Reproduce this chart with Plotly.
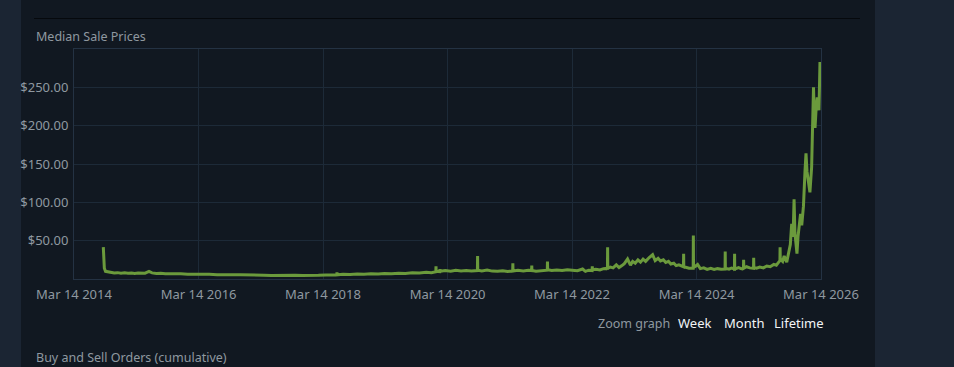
import plotly.graph_objects as go

# ---- data ----
dates = [
    "2014-09-02", "2014-09-05", "2014-09-08", "2014-09-15", "2014-10-01", "2014-10-20", "2014-11-05",
    "2014-11-25", "2014-12-15", "2015-01-05", "2015-01-25", "2015-02-15", "2015-03-05", "2015-03-25",
    "2015-04-15", "2015-05-05", "2015-05-28", "2015-06-15", "2015-07-10", "2015-08-05", "2015-09-01",
    "2015-10-01", "2015-11-01", "2015-12-01", "2016-01-10", "2016-02-20", "2016-04-01", "2016-05-15",
    "2016-07-01", "2016-08-15", "2016-10-01", "2016-11-15", "2017-01-01", "2017-02-15", "2017-04-01",
    "2017-05-15", "2017-07-01", "2017-08-15", "2017-10-01", "2017-11-15", "2018-01-01", "2018-02-15",
    "2018-04-01", "2018-05-10", "2018-06-03", "2018-06-04", "2018-06-05", "2018-07-10", "2018-08-20",
    "2018-10-01", "2018-11-10", "2018-12-20", "2019-02-01", "2019-03-10", "2019-04-20", "2019-06-01",
    "2019-07-10", "2019-08-20", "2019-10-01", "2019-11-10", "2019-12-10", "2020-01-05", "2020-01-06",
    "2020-01-07", "2020-01-28", "2020-01-29", "2020-01-30", "2020-03-01", "2020-04-01", "2020-05-01",
    "2020-06-01", "2020-07-01", "2020-08-01", "2020-09-05", "2020-09-06", "2020-09-07", "2020-10-01",
    "2020-11-01", "2020-12-01", "2021-01-01", "2021-02-01", "2021-03-01", "2021-03-31", "2021-04-01",
    "2021-04-02", "2021-05-01", "2021-06-01", "2021-07-01", "2021-07-20", "2021-07-21", "2021-07-22",
    "2021-08-15", "2021-09-15", "2021-10-20", "2021-10-21", "2021-10-22", "2021-11-15", "2021-12-15",
    "2022-01-15", "2022-02-15", "2022-03-15", "2022-04-15", "2022-05-15", "2022-06-01", "2022-06-20",
    "2022-07-10", "2022-07-11", "2022-07-12", "2022-08-01", "2022-08-25", "2022-09-15", "2022-10-08",
    "2022-10-09", "2022-10-10", "2022-10-25", "2022-11-10", "2022-11-29", "2022-12-15", "2023-01-01",
    "2023-01-15", "2023-02-03", "2023-02-20", "2023-03-05", "2023-03-20", "2023-04-05", "2023-04-20",
    "2023-05-05", "2023-05-20", "2023-06-10", "2023-06-30", "2023-07-15", "2023-08-01", "2023-08-15",
    "2023-09-01", "2023-09-15", "2023-10-01", "2023-10-15", "2023-11-01", "2023-11-15", "2023-12-01",
    "2023-12-28", "2023-12-29", "2023-12-30", "2024-01-15", "2024-01-30", "2024-02-23", "2024-02-24",
    "2024-02-25", "2024-03-10", "2024-03-20", "2024-04-05", "2024-04-25", "2024-05-15", "2024-06-05",
    "2024-06-25", "2024-07-15", "2024-08-05", "2024-08-28", "2024-08-29", "2024-08-30", "2024-09-20",
    "2024-10-05", "2024-10-22", "2024-10-23", "2024-10-24", "2024-11-15", "2024-12-01", "2024-12-14",
    "2024-12-15", "2024-12-16", "2025-01-01", "2025-01-20", "2025-02-11", "2025-02-12", "2025-02-13",
    "2025-03-01", "2025-03-20", "2025-04-10", "2025-04-30", "2025-05-20", "2025-06-10", "2025-06-25",
    "2025-07-16", "2025-07-17", "2025-07-18", "2025-08-01", "2025-08-10", "2025-08-25", "2025-09-05",
    "2025-09-15", "2025-09-23", "2025-09-28", "2025-10-03", "2025-10-07", "2025-10-12", "2025-10-17",
    "2025-10-24", "2025-10-30", "2025-11-07", "2025-11-14", "2025-11-21", "2025-12-01", "2025-12-10",
    "2025-12-16", "2025-12-22", "2025-12-29", "2026-01-04", "2026-01-08", "2026-01-18", "2026-01-25",
    "2026-01-29", "2026-02-03", "2026-02-07", "2026-02-14", "2026-02-20", "2026-02-26", "2026-03-02",
    "2026-03-05", "2026-03-08", "2026-03-10",
]
prices = [
    41.5, 30, 14, 10, 9, 8.5, 7.8,
    8.3, 7.5, 8, 7.4, 7.8, 7.3, 7.9,
    8.2, 7.6, 9.8, 8, 7.2, 7.5, 6.8,
    7.1, 6.5, 6.9, 6.3, 6.6, 6, 6.3,
    5.7, 6, 5.4, 5.6, 5, 5.3, 4.8,
    4.6, 4.9, 4.5, 4.8, 4.6, 5.2, 4.9,
    5.3, 5.1, 5.5, 8.5, 5.5, 6.2, 5.8,
    6.6, 6.1, 6.7, 6.4, 7.2, 6.8, 7.6,
    7.2, 8.1, 7.7, 8.8, 8.3, 9.5, 16.7,
    10, 9.6, 13, 10, 11, 10.2, 11.5,
    10.6, 11.2, 10.4, 11, 30, 11.5, 10.6,
    11.6, 10.3, 10, 10.8, 9.9, 10.5, 20.6,
    10.5, 11.3, 10.6, 11.4, 11, 17.6, 11,
    10.2, 11, 11.5, 22.8, 12, 11, 11.8,
    11.2, 12.2, 11.5, 10.8, 13, 10, 11.5,
    11, 16.7, 12, 12.8, 11.8, 13.5, 14,
    41.5, 14, 15.5, 14.5, 18.5, 15, 17.5,
    20, 26, 18, 23, 20.5, 25, 22,
    26, 23, 28, 31.6, 24, 27, 23.5,
    25, 21.5, 23, 19.5, 20.5, 17.5, 18.5,
    16, 33, 16, 15, 14, 14, 56.8,
    15, 17, 19, 13.5, 14.5, 12.5, 13.8,
    12.5, 13.5, 12.8, 13, 35.9, 14, 12.8,
    14.2, 13, 33, 13, 15, 13.5, 14,
    25, 14, 16, 14.5, 14, 27.7, 15,
    14, 15.5, 14.5, 17, 16, 19, 18,
    24, 41.5, 26, 23, 30, 22, 35,
    45, 72, 55, 70, 104, 60, 45,
    33, 55, 76, 85, 70, 95, 140,
    164, 140, 126, 118, 113, 146, 200,
    250, 210, 197, 225, 237, 225, 220,
    250, 283, 270,
]

y_tick_values = [50, 100, 150, 200, 250]
y_tick_labels = ["$50.00", "$100.00", "$150.00", "$200.00", "$250.00"]
x_tick_values = ["2014-03-14", "2016-03-14", "2018-03-14", "2020-03-14", "2022-03-14", "2024-03-14", "2026-03-14"]
x_tick_labels = ["Mar 14 2014", "Mar 14 2016", "Mar 14 2018", "Mar 14 2020", "Mar 14 2022", "Mar 14 2024", "Mar 14 2026"]

# ---- layout geometry (pixels) ----
W, H = 954, 367
L, R, T, B = 74, 821, 49, 279


def px(x):
    return (x - L) / (R - L)


def py(y):
    return (B - y) / (B - T)


OUTER = "#1b2533"
PANEL = "#111821"
GRID = "#1d2a38"
FRAME = "#243243"
TEXT = "#8f98a0"
FONT = "Noto Sans, Open Sans, Arial, sans-serif"

fig = go.Figure()
fig.add_trace(go.Scatter(
    x=dates, y=prices, mode="lines",
    line=dict(color="#6b9a3c", width=3),
    hoverinfo="skip",
))

fig.update_layout(
    width=W, height=H,
    margin=dict(l=L, r=W - R, t=T, b=H - B, pad=0),
    paper_bgcolor=OUTER,
    plot_bgcolor=PANEL,
    showlegend=False,
    hovermode=False,
    font=dict(family=FONT, color=TEXT, size=13),
    xaxis=dict(
        type="date",
        range=["2014-03-14", "2026-03-14"],
        tickvals=x_tick_values, ticktext=x_tick_labels,
        showgrid=True, gridcolor=GRID, gridwidth=1,
        showline=True, linecolor=FRAME, linewidth=1, mirror=True,
        ticks="outside", ticklen=3, tickcolor="rgba(0,0,0,0)",
        tickfont=dict(size=13, color=TEXT),
        zeroline=False,
    ),
    yaxis=dict(
        range=[0, 300],
        tickvals=y_tick_values, ticktext=y_tick_labels,
        showgrid=True, gridcolor=GRID, gridwidth=1,
        showline=True, linecolor=FRAME, linewidth=1, mirror=True,
        ticks="outside", ticklen=2, tickcolor="rgba(0,0,0,0)",
        tickfont=dict(size=13, color=TEXT),
        zeroline=False,
    ),
    shapes=[
        dict(type="rect", xref="paper", yref="paper", layer="below",
             x0=px(21), x1=px(875), y0=py(380), y1=py(-10),
             fillcolor=PANEL, line=dict(width=0)),
        dict(type="line", xref="paper", yref="paper",
             x0=px(34), x1=px(860), y0=py(18.5), y1=py(18.5),
             line=dict(color="#06090d", width=1)),
    ],
    annotations=[
        dict(text="Median Sale Prices", xref="paper", yref="paper", x=px(34), y=py(36),
             xanchor="left", yanchor="middle", showarrow=False, font=dict(size=12.5, color=TEXT)),
        dict(text="Zoom graph", xref="paper", yref="paper", x=px(596), y=py(323),
             xanchor="left", yanchor="middle", showarrow=False, font=dict(size=12.5, color=TEXT)),
        dict(text="Week", xref="paper", yref="paper", x=px(676), y=py(323),
             xanchor="left", yanchor="middle", showarrow=False, font=dict(size=13, color="#f2f4f6")),
        dict(text="Month", xref="paper", yref="paper", x=px(722), y=py(323),
             xanchor="left", yanchor="middle", showarrow=False, font=dict(size=13, color="#f2f4f6")),
        dict(text="Lifetime", xref="paper", yref="paper", x=px(772), y=py(323),
             xanchor="left", yanchor="middle", showarrow=False, font=dict(size=13, color="#f2f4f6")),
        dict(text="Buy and Sell Orders (cumulative)", xref="paper", yref="paper", x=px(34), y=py(357),
             xanchor="left", yanchor="middle", showarrow=False, font=dict(size=12.5, color=TEXT)),
    ],
)

fig.write_html(
    "out.html",
    config={"displayModeBar": False, "staticPlot": True},
    post_script="document.body.style.margin='0px';document.body.style.padding='0px';",
)
